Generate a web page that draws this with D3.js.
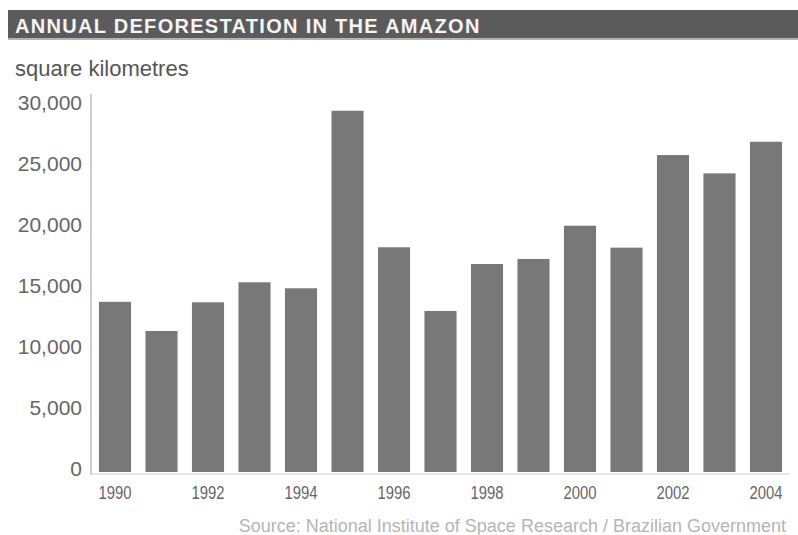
<!DOCTYPE html>
<html>
<head>
<meta charset="utf-8">
<script src="https://cdn.jsdelivr.net/npm/d3@7"></script>
<style>
  html, body { margin: 0; padding: 0; background: #fff; }
  svg { display: block; }
</style>
</head>
<body>
<svg id="chart" width="798" height="535"></svg>
<script>
// Annual deforestation in the Brazilian Amazon, square kilometres
const years = ["1990","1991","1992","1993","1994","1995","1996","1997","1998","1999","2000","2001","2002","2003","2004"];
const areaKm2 = [13950, 11560, 13910, 15550, 15060, 29610, 18420, 13200, 17050, 17460, 20190, 18390, 25980, 24480, 27070];
const yTicks = [0, 5000, 10000, 15000, 20000, 25000, 30000];
const yearLabels = ["1990","1992","1994","1996","1998","2000","2002","2004"];

const titleText = "ANNUAL DEFORESTATION IN THE AMAZON";
const unitText = "square kilometres";
const sourceText = "Source: National Institute of Space Research / Brazilian Government";

const svg = d3.select("#chart");
const W = 798, H = 535;
const font = "'Liberation Sans', Arial, Helvetica, sans-serif";

// Title band
svg.append("rect").attr("x", 8).attr("y", 10).attr("width", W - 8).attr("height", 28).attr("fill", "#5b5b5b");
svg.append("rect").attr("x", 8).attr("y", 38).attr("width", W - 8).attr("height", 2).attr("fill", "#b4b4b4");
svg.append("text")
  .attr("x", 15).attr("y", 33)
  .attr("font-family", font).attr("font-weight", "bold").attr("font-size", 20)
  .attr("letter-spacing", 1.3)
  .attr("fill", "#f4f4f4")
  .text(titleText);

// Unit label
svg.append("text")
  .attr("x", 15).attr("y", 76)
  .attr("font-family", font).attr("font-size", 22)
  .attr("fill", "#555")
  .text(unitText);

// Scales
const x = d3.scaleBand().domain(years).range([92, 789]).paddingInner(0.31).paddingOuter(0.15);
const y = d3.scaleLinear().domain([0, 30000]).range([472, 106]);

// Bars
svg.append("g").selectAll("rect")
  .data(years.map((yr, i) => ({ yr, v: areaKm2[i] })))
  .join("rect")
  .attr("x", d => x(d.yr))
  .attr("width", x.bandwidth())
  .attr("y", d => y(d.v))
  .attr("height", d => y(0) - y(d.v))
  .attr("fill", "#787878");

// Y axis
const yAxis = d3.axisLeft(y).tickValues(yTicks).tickSize(0).tickPadding(9)
  .tickFormat(d3.format(","));
const gy = svg.append("g").attr("transform", "translate(91,0)").call(yAxis);
gy.select(".domain").attr("stroke", "#bdbdbd").attr("stroke-width", 1.5)
  .attr("d", `M0,${y(30000) - 12}V${y(0) + 3}`);
gy.selectAll("text")
  .attr("font-family", font).attr("font-size", 21).attr("fill", "#666")
  .attr("dy", "0.32em").attr("y", -3);

// X axis
const xAxis = d3.axisBottom(x).tickValues(yearLabels).tickSize(0).tickPadding(12);
const gx = svg.append("g").attr("transform", `translate(0,${y(0) + 2})`).call(xAxis);
gx.select(".domain").attr("stroke", "#d0d0d0").attr("stroke-width", 1)
  .attr("d", `M91,0H790`);
gx.selectAll("text")
  .attr("font-family", font).attr("font-size", 18).attr("fill", "#666")
  .attr("textLength", 33).attr("lengthAdjust", "spacingAndGlyphs");

// Source note
svg.append("text")
  .attr("x", 786).attr("y", 532)
  .attr("text-anchor", "end")
  .attr("font-family", font).attr("font-size", 18)
  .attr("fill", "#b5b5b5")
  .text(sourceText);
</script>
</body>
</html>
